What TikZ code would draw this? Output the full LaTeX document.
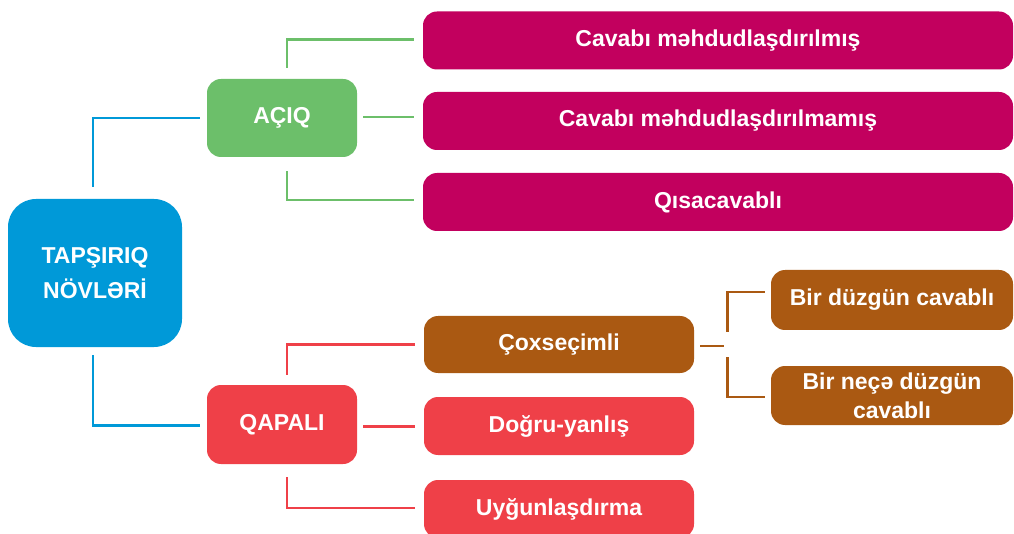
\documentclass[tikz,border=0pt]{standalone}
\usepackage{fontspec}
\setmainfont{Liberation Sans}
\usetikzlibrary{calc}
\definecolor{cblue}{HTML}{0099D8}
\definecolor{cgreen}{HTML}{6CBF6A}
\definecolor{cred}{HTML}{EF4048}
\definecolor{cmag}{HTML}{C2005E}
\definecolor{cbrown}{HTML}{AA5912}
\tikzset{
  box/.style={rounded corners=14pt, inner sep=0pt, align=center, text=white,
    font=\fontsize{23}{30}\selectfont\bfseries},
  conn/.style={line width=2.6pt},
}
\begin{document}
\begin{tikzpicture}[x=1pt,y=-1pt]
\useasboundingbox (0,0) rectangle (1014,534);
% nodes
\node[box, fill=cblue, rounded corners=28pt, minimum width=174pt, minimum height=148pt,
  font=\fontsize{23}{35}\selectfont\bfseries] (root) at (95,273) {TAPŞIRIQ\\NÖVLƏRİ};
\node[box, fill=cgreen, minimum width=150pt, minimum height=78pt] (open) at (282,118) {AÇIQ};
\node[box, fill=cred, minimum width=150pt, minimum height=79pt] (closed) at (282,424.5) {QAPALI};
\node[box, fill=cmag, minimum width=590pt, minimum height=58pt] (o1) at (718,40.5) {Cavabı məhdudlaşdırılmış};
\node[box, fill=cmag, minimum width=590pt, minimum height=58pt] (o2) at (718,121) {Cavabı məhdudlaşdırılmamış};
\node[box, fill=cmag, minimum width=590pt, minimum height=58pt] (o3) at (718,202) {Qısacavablı};
\node[box, fill=cbrown, minimum width=270pt, minimum height=57pt] (c1) at (559,344.5) {Çoxseçimli};
\node[box, fill=cred, minimum width=270pt, minimum height=58pt] (c2) at (559,426) {Doğru-yanlış};
\node[box, fill=cred, minimum width=270pt, minimum height=58pt] (c3) at (559,509) {Uyğunlaşdırma};
\node[box, fill=cbrown, minimum width=242pt, minimum height=60pt] (m1) at (892,300) {Bir düzgün cavablı};
\node[box, fill=cbrown, minimum width=242pt, minimum height=59pt,
  font=\fontsize{23}{29}\selectfont\bfseries] (m2) at (892,395.5) {Bir neçə düzgün\\cavablı};
% blue connectors
\draw[conn, cblue] ($(root.north)+(-2,-12)$) |- ($(open.west)+(-7,0)$);
\draw[conn, cblue] ($(root.south)+(-2,8)$) |- ($(closed.west)+(-7,1)$);
% green connectors
\draw[conn, cgreen] ($(open.north)+(5,-11)$) |- ($(o1.west)+(-9,-1)$);
\draw[conn, cgreen] ($(open.east)+(6,-1)$) -- ($(open.east -| o2.west)+(-9,-1)$);
\draw[conn, cgreen] ($(open.south)+(5,14)$) |- ($(o3.west)+(-9,-2)$);
% red connectors
\draw[conn, cred] ($(closed.north)+(5,-10)$) |- ($(c1.west)+(-9,0)$);
\draw[conn, cred] ($(closed.east)+(6,2)$) -- ($(closed.east -| c2.west)+(-9,2)$);
\draw[conn, cred] ($(closed.south)+(5,13)$) |- ($(c3.west)+(-9,-1)$);
% brown connectors
\coordinate (bj) at (727.5,346);
\draw[conn, cbrown] ($(c1.east)+(6,1.5)$) -- ($(bj)+(-4,0)$);
\draw[conn, cbrown] ($(bj)+(0,-14)$) |- ($(m1.west)+(-6,-8)$);
\draw[conn, cbrown] ($(bj)+(0,11)$) |- ($(m2.west)+(-6,1.5)$);
\end{tikzpicture}
\end{document}
